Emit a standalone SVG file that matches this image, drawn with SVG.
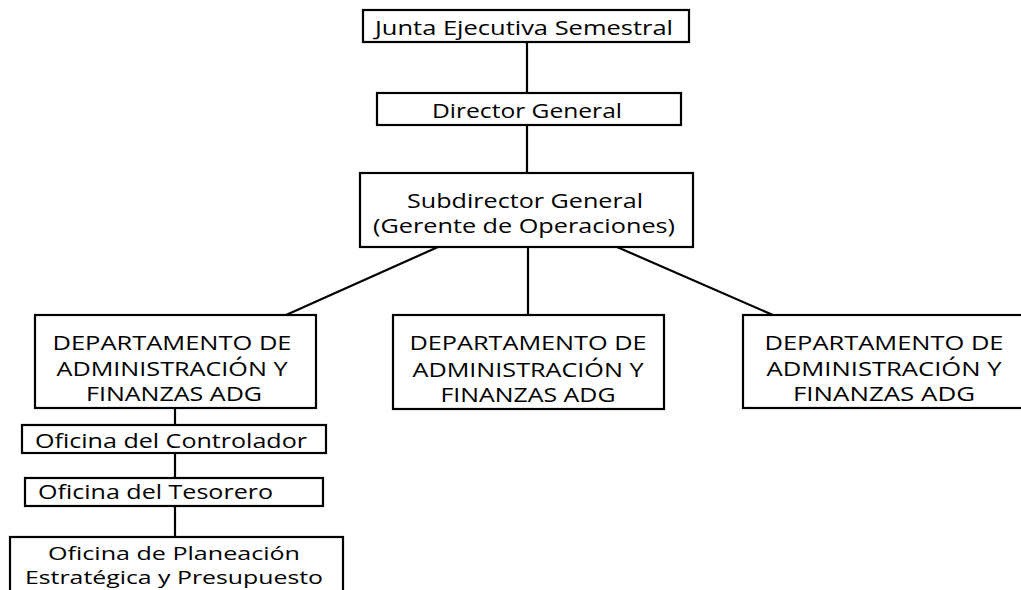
<svg xmlns="http://www.w3.org/2000/svg" width="1021" height="590" viewBox="0 0 1021 590">
<style>
rect{fill:#fff;stroke:#000;stroke-width:2.2}
.c line{stroke:#000;stroke-width:2.2}
text{font-family:"Open Sans","Liberation Sans",sans-serif;font-size:20px;fill:#000;text-anchor:middle}
.s{font-size:19px}
</style>
<rect x="0" y="0" width="1021" height="590" style="stroke:none"/>
<g class="c" id="connectors">
<line x1="527" y1="42" x2="527" y2="93"/>
<line x1="527" y1="125" x2="527" y2="173"/>
<line x1="438" y1="247" x2="286" y2="315"/>
<line x1="528" y1="247" x2="528" y2="315"/>
<line x1="617" y1="247" x2="773" y2="315"/>
<line x1="175" y1="408" x2="175" y2="425"/>
<line x1="175" y1="453" x2="175" y2="478"/>
<line x1="175" y1="506" x2="175" y2="537"/>
</g>
<g id="junta">
<rect x="363" y="10" width="326" height="32"/>
<text x="524" y="35" textLength="298" lengthAdjust="spacingAndGlyphs">Junta Ejecutiva Semestral</text>
</g>
<g id="director">
<rect x="377" y="93" width="304" height="32"/>
<text x="527" y="118" textLength="190" lengthAdjust="spacingAndGlyphs">Director General</text>
</g>
<g id="subdirector">
<rect x="360" y="173" width="333" height="74"/>
<text x="525" y="208" textLength="236" lengthAdjust="spacingAndGlyphs">Subdirector General</text>
<text x="524" y="233" textLength="302" lengthAdjust="spacingAndGlyphs">(Gerente de Operaciones)</text>
</g>
<g id="dept-left">
<rect x="35" y="315" width="281" height="93"/>
<text x="172" y="350" textLength="239" lengthAdjust="spacingAndGlyphs">DEPARTAMENTO DE</text>
<text x="172" y="376" textLength="231" lengthAdjust="spacingAndGlyphs">ADMINISTRACIÓN Y</text>
<text x="174" y="401" textLength="176" lengthAdjust="spacingAndGlyphs">FINANZAS ADG</text>
</g>
<g id="dept-middle">
<rect x="393" y="315" width="271" height="94"/>
<text x="528" y="350" textLength="237" lengthAdjust="spacingAndGlyphs">DEPARTAMENTO DE</text>
<text x="528" y="377" textLength="231" lengthAdjust="spacingAndGlyphs">ADMINISTRACIÓN Y</text>
<text x="528" y="402" textLength="175" lengthAdjust="spacingAndGlyphs">FINANZAS ADG</text>
</g>
<g id="dept-right">
<rect x="743" y="315" width="300" height="93"/>
<text x="884" y="350" textLength="239" lengthAdjust="spacingAndGlyphs">DEPARTAMENTO DE</text>
<text x="884" y="376" textLength="235" lengthAdjust="spacingAndGlyphs">ADMINISTRACIÓN Y</text>
<text x="884" y="401" textLength="182" lengthAdjust="spacingAndGlyphs">FINANZAS ADG</text>
</g>
<g id="controlador">
<rect x="22" y="425" width="304" height="28"/>
<text x="171" y="448" textLength="272" lengthAdjust="spacingAndGlyphs">Oficina del Controlador</text>
</g>
<g id="tesorero">
<rect x="25" y="478" width="298" height="28"/>
<text x="38" y="499" textLength="235" lengthAdjust="spacingAndGlyphs" style="text-anchor:start">Oficina del Tesorero</text>
</g>
<g id="planeacion">
<rect x="10" y="537" width="333" height="70"/>
<text class="s" x="174" y="560" textLength="252" lengthAdjust="spacingAndGlyphs">Oficina de Planeación</text>
<text class="s" x="174" y="584" textLength="298" lengthAdjust="spacingAndGlyphs">Estratégica y Presupuesto</text>
</g>
</svg>
